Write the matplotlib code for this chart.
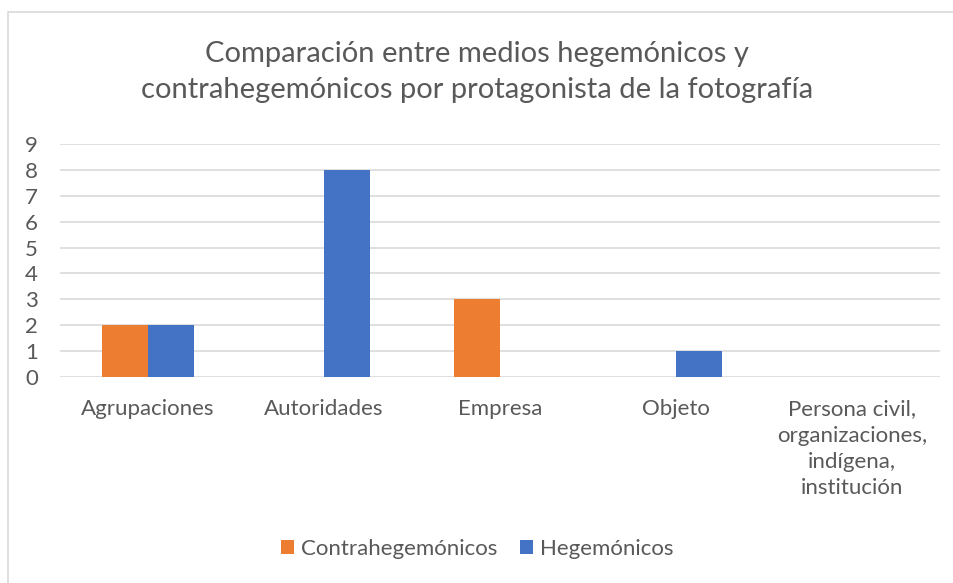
import matplotlib.pyplot as plt
from matplotlib.patches import Rectangle
import numpy as np

categories = ["Agrupaciones", "Autoridades", "Empresa", "Objeto",
              "Persona civil,\norganizaciones,\nindígena,\ninstitución"]
contrahegemonicos = [2, 0, 3, 0, 0]
hegemonicos = [2, 8, 0, 1, 0]
series_names = ["Contrahegemónicos", "Hegemónicos"]

ORANGE = "#ED7D31"
BLUE = "#4472C4"
TEXT = "#595959"
GRID = "#D9D9D9"

plt.rcParams.update({"font.family": ["Lato", "DejaVu Sans"]})

fig = plt.figure(figsize=(9.54, 5.83), dpi=100)
W, H = 954, 583
ax = fig.add_axes([60 / W, 1 - 377 / H, 880 / W, 233 / H])

# chart border
fig.patches.append(Rectangle((8 / W, -0.1), 1.2, 1.1 - 12 / H,
                             transform=fig.transFigure, fill=False,
                             edgecolor=GRID, linewidth=1.2))

x = np.arange(len(categories))
width = 0.26
ax.bar(x - width / 2, contrahegemonicos, width, color=ORANGE, label=series_names[0], zorder=3)
ax.bar(x + width / 2, hegemonicos, width, color=BLUE, label=series_names[1], zorder=3)

ax.set_xlim(-0.5, len(categories) - 0.5)
ax.set_ylim(0, 9)
ax.set_yticks(range(10))
ax.yaxis.grid(True, color=GRID, linewidth=1.2, zorder=0)
for s in ax.spines.values():
    s.set_visible(False)
ax.tick_params(axis="both", length=0, labelsize=16, colors=TEXT)
ax.tick_params(axis="y", pad=16)
ax.tick_params(axis="x", pad=16)
ax.set_xticks(x)
ax.set_xticklabels(categories, linespacing=1.4, va="top")

fig.text(0.5, 1 - 72 / H,
         "Comparación entre medios hegemónicos y\ncontrahegemónicos por protagonista de la fotografía",
         ha="center", va="center", fontsize=21, color=TEXT, linespacing=1.45)

fig.legend(loc="center", bbox_to_anchor=(0.5, 1 - 549 / H), ncol=2, frameon=False,
           fontsize=16, labelcolor=TEXT, handlelength=0.6, handleheight=0.6,
           handletextpad=0.3, columnspacing=1.0)

fig.savefig("out.png", dpi=100)
